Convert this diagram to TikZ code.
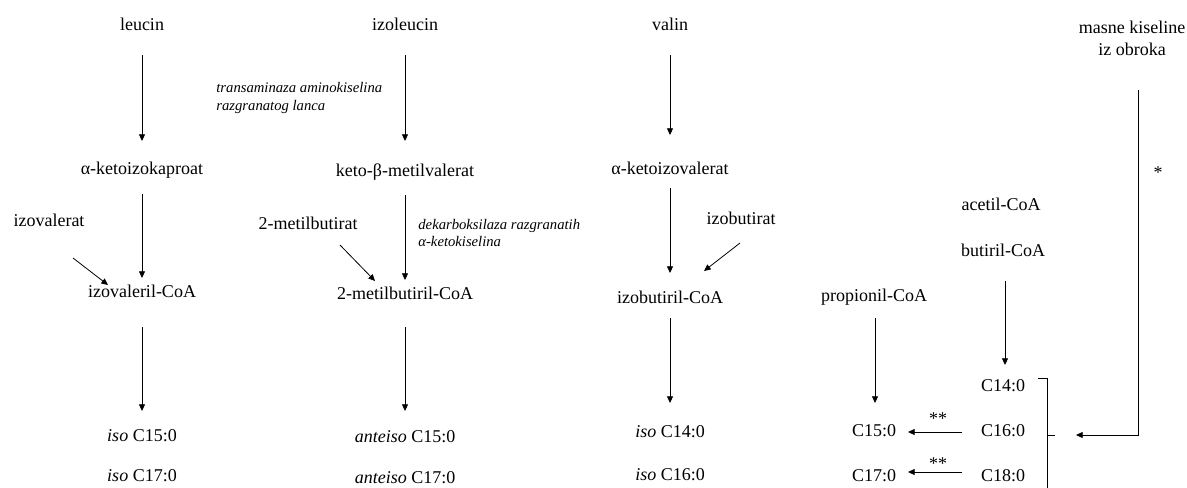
\documentclass[tikz,border=0pt]{standalone}
\usepackage{fontspec}
\setmainfont{Liberation Serif}
\usetikzlibrary{arrows.meta, calc, positioning}

\begin{document}
\begin{tikzpicture}[>={Triangle[length=5pt,width=4.5pt]}, x=0.75pt, y=-0.75pt, line width=0.6pt,
  tx/.style={font=\fontsize{13.5}{16}\selectfont, inner sep=0pt, text height=9pt, text depth=3pt},
  enz/.style={font=\fontsize{11}{13}\selectfont\itshape, inner sep=0pt, align=left, anchor=west}]
\useasboundingbox (0,0) rectangle (1187,488);
% leucin
\node[tx] (leu) at (142,27) {leucin};
\node[tx] (akic) at (142,171) {α-ketoizokaproat};
\node[tx] (izoval) at (49,222) {izovalerat};
\node[tx] (izovCoA) at (142,293) {izovaleril-CoA};
\node[tx] (iso15) at (142,437) {\textit{iso} C15:0};
\node[tx] (iso17) at (142,477) {\textit{iso} C17:0};
\draw[->]($(leu)+(0,28)$)--($(akic)-(0,30)$);
\draw[->]($(akic)+(0,23)$)--($(izovCoA)-(0,15)$);
\draw[->]($(izoval)+(24,36)$)--($(izovCoA)+(-34,-8)$);
\draw[->]($(izovCoA)+(0,34)$)--($(iso15)-(0,26)$);
% izoleucin
\node[tx] (ile) at (405,27) {izoleucin};
\node[enz] (trans) at (216,98) {transaminaza aminokiselina\\razgranatog lanca};
\node[tx] (kmv) at (405,173) {keto-β-metilvalerat};
\node[enz] (dekarb) at (418,233) {dekarboksilaza razgranatih\\α-ketokiselina};
\node[tx] (mbut) at (308,225) {2-metilbutirat};
\node[tx] (mbCoA) at (405,295) {2-metilbutiril-CoA};
\node[tx] (ai15) at (405,438) {\textit{anteiso} C15:0};
\node[tx] (ai17) at (405,479) {\textit{anteiso} C17:0};
\draw[->]($(ile)+(0,28)$)--($(kmv)-(0,32)$);
\draw[->]($(kmv)+(0,22)$)--($(mbCoA)-(0,15)$);
\draw[->]($(mbut)+(32,20)$)--($(mbCoA)+(-30,-14)$);
\draw[->]($(mbCoA)+(0,32)$)--($(ai15)-(0,27)$);
% valin
\node[tx] (val) at (670,27) {valin};
\node[tx] (akiv) at (670,171) {α-ketoizovalerat};
\node[tx] (izobut) at (741,220) {izobutirat};
\node[tx] (ibCoA) at (670,299) {izobutiril-CoA};
\node[tx] (iso14) at (670,433) {\textit{iso} C14:0};
\node[tx] (iso16) at (670,476) {\textit{iso} C16:0};
\draw[->]($(val)+(0,28)$)--($(akiv)-(0,36)$);
\draw[->]($(akiv)+(0,17)$)--($(ibCoA)-(0,26)$);
\draw[->]($(izobut)+(-1,23)$)--($(ibCoA)+(34,-28)$);
\draw[->]($(ibCoA)+(0,19)$)--($(iso14)-(0,30)$);
% masne kiseline
\node[font=\fontsize{13.5}{16.5}\selectfont, inner sep=0pt, align=center] (diet) at (1132,38) {masne kiseline\\iz obroka};
\node[tx] (star) at (1158,175) {*};
\node[tx] (acet) at (1001,207) {acetil-CoA};
\node[tx] (but) at (1003,252) {butiril-CoA};
\node[tx] (prop) at (874,297) {propionil-CoA};
\node[tx] (c14) at (1003,387) {C14:0};
\node[tx] (c16) at (1003,432) {C16:0};
\node[tx] (c18) at (1003,477) {C18:0};
\node[tx] (c15) at (874,432) {C15:0};
\node[tx] (c17) at (874,477) {C17:0};
\node[tx] (st1) at (938,420) {**};
\node[tx] (st2) at (938,465) {**};
\draw[->]($(but)+(2,29)$)--($(c14)+(2,-22)$);
\draw[->]($(prop)+(1,21)$)--($(c15)+(1,-29)$);
\draw[->]($(c16)+(-41,0)$)--($(c15)+(34,0)$);
\draw[->]($(c18)+(-41,-5)$)--($(c17)+(34,-5)$);
% zagrada
\coordinate (brtop) at (1047,378);
\coordinate (brmid) at (1047,435);
\coordinate (brk) at (1055,435);
\draw ($(brtop)+(-9,0)$)--(brtop)--(1047,492);
\draw (brmid)--(brk);
\draw[->]($(diet)+(6,52)$)|-($(brk)+(21,0)$);
\end{tikzpicture}
\end{document}
